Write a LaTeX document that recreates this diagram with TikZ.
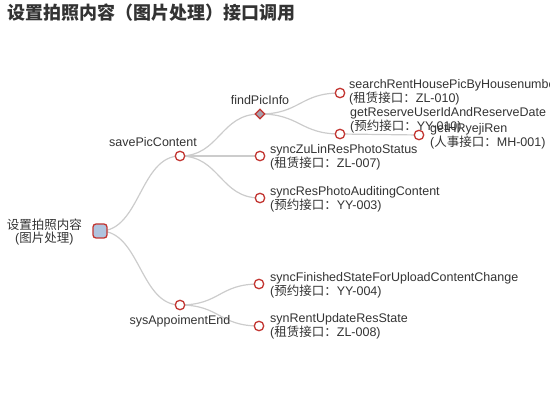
\documentclass[tikz,border=0pt]{standalone}
\usepackage{fontspec}
\setmainfont{Liberation Sans}
\newfontfamily\cjk{Noto Sans CJK SC}
\usetikzlibrary{backgrounds,shapes.geometric}
\definecolor{edgec}{HTML}{CCCCCC}
\definecolor{redc}{HTML}{C23531}
\definecolor{txt}{HTML}{333333}
\definecolor{rootfill}{HTML}{B0C4DE}
\definecolor{diafill}{HTML}{A8A0AC}
\tikzset{
  dot/.style={circle, draw=redc, fill=white, line width=1.3pt, minimum size=9.5pt, inner sep=0pt},
  rootbox/.style={rectangle, rounded corners=3pt, draw=redc, fill=rootfill, line width=1.3pt, minimum size=14pt, inner sep=0pt},
  dia/.style={diamond, draw=redc, fill=diafill, line width=1.1pt, minimum size=10pt, inner sep=0pt},
  link/.style={draw=edgec, line width=1.2pt},
  lbl/.style={text=txt, font=\fontsize{12.5}{11.5}\selectfont, align=left, inner sep=0pt},
  lblc/.style={lbl, align=center},
  titlestyle/.style={text=txt, font=\fontsize{18}{20}\selectfont\bfseries\cjk, inner sep=0pt}
}
\begin{document}
\begin{tikzpicture}[x=1pt,y=-1pt]
\useasboundingbox (0,0) rectangle (550,420);
\clip (0,0) rectangle (550,420);
\node[titlestyle, anchor=west] (title) at (7,13) {设置拍照内容（图片处理）接口调用};

% nodes
\node[rootbox] (root) at (100,231) {};
\node[dot] (save) at (180,156) {};
\node[dot] (sys) at (180,305) {};
\node[dia] (find) at (260,114) {};
\node[dot] (zulin) at (260,156) {};
\node[dot] (audit) at (260,198) {};
\node[dot] (search) at (340,93) {};
\node[dot] (reserve) at (340,134) {};
\node[dot] (hr) at (419,135) {};
\node[dot] (finish) at (259,284) {};
\node[dot] (rent) at (259,326) {};

% edges
\begin{scope}[on background layer]
\draw[link] (root.center) .. controls +(40,0) and +(-40,0) .. (save.center);
\draw[link] (root.center) .. controls +(40,0) and +(-40,0) .. (sys.center);
\draw[link] (save.center) .. controls +(40,0) and +(-40,0) .. (find.center);
\draw[link] (save.center) .. controls +(40,0) and +(-40,0) .. (zulin.center);
\draw[link] (save.center) .. controls +(40,0) and +(-40,0) .. (audit.center);
\draw[link] (find.center) .. controls +(40,0) and +(-40,0) .. (search.center);
\draw[link] (find.center) .. controls +(40,0) and +(-40,0) .. (reserve.center);
\draw[link] (reserve.center) .. controls +(40,0) and +(-40,0) .. (hr.center);
\draw[link] (sys.center) .. controls +(40,0) and +(-40,0) .. (finish.center);
\draw[link] (sys.center) .. controls +(40,0) and +(-40,0) .. (rent.center);
\end{scope}

% labels
\node[lblc, anchor=east] (rootl) at (82,232) {{\cjk 设置拍照内容}\\({\cjk 图片处理})};
\node[lblc] (savel) at (153,142) {savePicContent};
\node[lblc] (sysl) at (180,321) {sysAppoimentEnd};
\node[lblc] (findl) at (260,100) {findPicInfo};
\node[lbl, anchor=west] (searchl) at (349,92.5) {searchRentHousePicByHousenumber\\({\cjk 租赁接口：}ZL-010)};
\node[lbl, anchor=west] (reservel) at (350,120) {getReserveUserIdAndReserveDate\\({\cjk 预约接口：}YY-010)};
\node[lbl, anchor=west] (hrl) at (430,136) {getHRyejiRen\\({\cjk 人事接口：}MH-001)};
\node[lbl, anchor=west] (zulinl) at (270,157.5) {syncZuLinResPhotoStatus\\({\cjk 租赁接口：}ZL-007)};
\node[lbl, anchor=west] (auditl) at (270,199) {syncResPhotoAuditingContent\\({\cjk 预约接口：}YY-003)};
\node[lbl, anchor=west] (finishl) at (270,285) {syncFinishedStateForUploadContentChange\\({\cjk 预约接口：}YY-004)};
\node[lbl, anchor=west] (rentl) at (270,326.5) {synRentUpdateResState\\({\cjk 租赁接口：}ZL-008)};
\end{tikzpicture}
\end{document}
